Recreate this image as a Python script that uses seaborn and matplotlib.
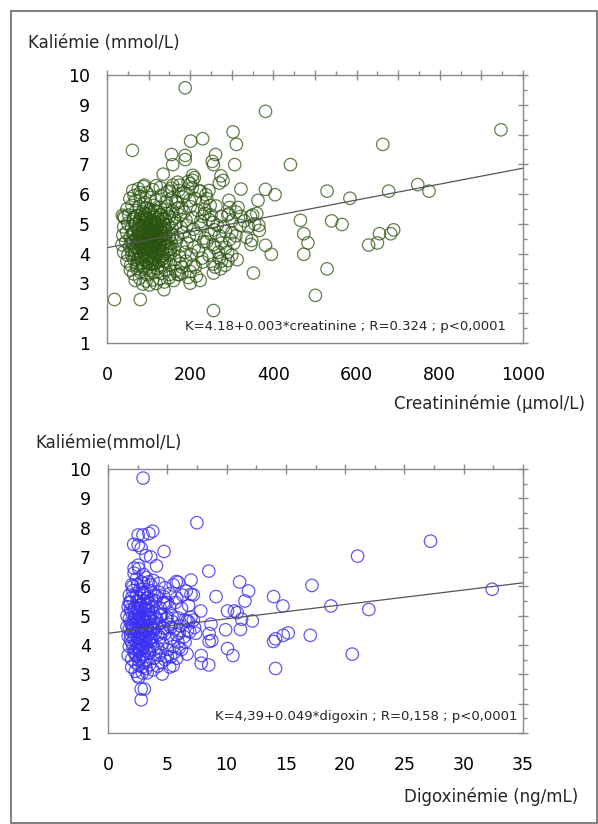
import matplotlib
matplotlib.use("Agg")
import matplotlib.pyplot as plt
from matplotlib.ticker import MultipleLocator, FuncFormatter
from matplotlib.patches import Rectangle
import seaborn as sns

sns.set_style("white")
plt.rcParams['font.family'] = ['DejaVu Sans']

# ---------------- Data: creatinine panel ----------------
creat_x = [
    # outliers / sparse points
    188, 381, 947, 303, 230, 201, 311, 663, 61, 155, 188, 188, 261, 253, 256, 158, 307, 441,
    135, 206, 206, 274, 270, 279, 322, 381, 404, 293, 363, 747, 774, 677, 529, 584, 465, 540,
    565, 473, 483, 473, 629, 650, 655, 682, 689, 529, 501, 381, 395, 352, 256, 18, 80, 137,
    37, 40, 313, 291, 284, 273, 256, 174, 200, 224, 346, 348, 366, 293,
    # cluster rows
    62, 75, 88, 96, 110, 128, 145, 158, 172, 190, 205, 222, 245, 238,
    55, 68, 80, 92, 104, 117, 130, 142, 155, 168, 182, 198, 212, 230, 262, 180,
    48, 60, 70, 78, 86, 95, 103, 112, 120, 128, 137, 146, 158, 170, 185, 200, 218, 235, 250, 275,
    42, 52, 63, 72, 81, 89, 97, 106, 114, 122, 131, 140, 150, 162, 175, 190, 206, 225, 245, 290, 310, 330, 345,
    40, 50, 59, 67, 75, 83, 90, 98, 105, 113, 121, 129, 138, 147, 156, 166, 178, 192, 208, 226, 258, 280, 300, 320, 355,
    38, 47, 56, 64, 71, 79, 86, 93, 100, 108, 115, 123, 131, 140, 149, 158, 170, 183, 198, 215, 235, 270, 295,
    36, 45, 54, 62, 69, 77, 84, 91, 99, 106, 113, 120, 128, 137, 146, 155, 166, 178, 192, 210, 232, 255, 285, 305,
    40, 50, 58, 66, 74, 82, 89, 96, 104, 111, 118, 126, 134, 143, 152, 162, 174, 188, 203, 220, 245, 268, 300,
    48, 57, 65, 73, 81, 88, 95, 103, 110, 117, 125, 133, 142, 152, 163, 176, 190, 208, 230, 255, 275,
    56, 64, 72, 80, 88, 96, 104, 112, 121, 130, 140, 150, 165, 180, 200, 215,
    68, 78, 86, 94, 102, 110, 118, 127, 138, 150, 160,
    # dense core
    76, 84, 92, 99, 107, 115, 88, 95, 103, 110, 118, 125, 81, 100, 108, 120, 130, 92, 85, 112,
    98, 105, 88, 115, 122, 78, 95, 102, 135, 72,
    62, 66, 70, 74, 77, 80, 83, 85, 87, 90, 91, 93, 94, 96, 97, 99, 101, 102, 104, 105,
    107, 109, 110, 111, 113, 114, 116, 117, 119, 121, 123, 124, 126, 127, 129, 131, 133, 134,
    136, 138, 141, 143, 145, 148, 150, 153, 156, 64, 68, 71, 73, 76, 79, 82, 86, 89, 92, 94,
    97, 100, 103, 106, 108, 111, 115, 118, 121, 124, 128, 132, 137, 142, 58, 60, 84, 96, 101,
    112, 119, 88, 104, 116,
    # medium spread
    165, 185, 200, 170, 155, 210, 225, 240, 235, 248, 230, 255, 265, 250, 240, 260, 275, 228,
    212, 195, 180, 170, 260, 270, 290, 285, 300, 315, 322, 340, 350, 360, 365, 335, 310, 295,
    90, 80, 65, 118, 150, 175, 195,
]
creat_k = [
    9.57, 8.78, 8.16, 8.09, 7.86, 7.78, 7.67, 7.67, 7.47, 7.33, 7.30, 7.16, 7.33, 7.10, 6.99, 6.99, 6.99, 6.99,
    6.67, 6.63, 6.46, 6.61, 6.37, 6.46, 6.17, 6.16, 5.98, 5.79, 5.79, 6.32, 6.10, 6.10, 6.10, 5.86, 5.12, 5.10,
    4.98, 4.67, 4.36, 3.98, 4.29, 4.36, 4.67, 4.67, 4.80, 3.49, 2.60, 4.28, 3.98, 3.35, 2.09, 2.46, 2.46, 2.79,
    5.29, 5.24, 3.80, 3.77, 3.61, 3.49, 3.35, 3.30, 3.01, 3.10, 4.31, 4.44, 4.78, 5.34,
    6.12, 6.18, 6.25, 6.05, 6.15, 6.22, 6.08, 6.30, 6.12, 6.02, 6.20, 6.10, 6.12, 5.98,
    5.85, 5.78, 5.92, 5.72, 5.88, 5.80, 5.95, 5.75, 5.86, 5.70, 5.90, 5.78, 5.85, 5.72, 5.60, 5.55,
    5.50, 5.62, 5.45, 5.58, 5.40, 5.55, 5.48, 5.62, 5.42, 5.55, 5.47, 5.60, 5.43, 5.52, 5.40, 5.58, 5.45, 5.35, 5.30, 5.25,
    5.20, 5.30, 5.15, 5.28, 5.12, 5.25, 5.18, 5.32, 5.10, 5.22, 5.30, 5.14, 5.25, 5.18, 5.30, 5.12, 5.22, 5.08, 5.15, 5.30, 5.40, 5.10, 5.25,
    4.90, 5.02, 4.85, 4.98, 4.82, 4.95, 5.05, 4.88, 4.98, 4.84, 5.00, 4.90, 4.80, 4.96, 4.86, 5.02, 4.88, 4.95, 4.82, 4.96, 4.80, 4.90, 4.70, 4.95, 5.00,
    4.62, 4.72, 4.55, 4.68, 4.52, 4.74, 4.60, 4.70, 4.55, 4.66, 4.50, 4.72, 4.58, 4.68, 4.52, 4.64, 4.55, 4.70, 4.58, 4.66, 4.52, 4.60, 4.48,
    4.30, 4.40, 4.25, 4.38, 4.22, 4.44, 4.30, 4.42, 4.26, 4.36, 4.20, 4.44, 4.28, 4.38, 4.22, 4.34, 4.42, 4.26, 4.36, 4.22, 4.40, 4.30, 4.20, 4.35,
    4.05, 3.95, 4.12, 3.98, 4.10, 3.92, 4.06, 3.96, 4.14, 3.90, 4.02, 4.12, 3.94, 4.08, 3.98, 4.12, 3.92, 4.05, 3.96, 4.10, 3.95, 4.05, 3.95,
    3.75, 3.62, 3.80, 3.66, 3.82, 3.60, 3.74, 3.64, 3.82, 3.68, 3.78, 3.60, 3.74, 3.64, 3.80, 3.66, 3.75, 3.62, 3.72, 3.65, 3.75,
    3.45, 3.32, 3.50, 3.38, 3.52, 3.30, 3.44, 3.36, 3.50, 3.34, 3.46, 3.30, 3.42, 3.35, 3.40, 3.25,
    3.10, 3.18, 2.98, 3.08, 2.95, 3.12, 3.00, 3.15, 3.05, 3.20, 3.10,
    4.55, 4.75, 4.15, 4.85, 4.45, 4.65, 4.35, 4.95, 4.25, 4.75, 4.35, 4.55, 4.25, 4.62, 4.08, 4.85, 4.45, 5.15, 4.48, 4.28,
    4.40, 4.80, 4.90, 4.05, 4.60, 4.65, 4.20, 5.05, 4.70, 4.35,
    4.70, 4.10, 5.00, 3.85, 4.95, 4.40, 5.30, 3.70, 4.60, 4.00, 5.35, 4.50, 3.80, 5.20, 4.30, 3.55, 4.70, 5.40, 3.95, 4.55,
    5.10, 4.20, 3.70, 4.90, 5.25, 4.40, 3.85, 4.75, 5.05, 4.15, 3.60, 4.95, 4.35, 5.30, 3.90, 4.70, 4.10, 5.15,
    4.50, 3.75, 4.85, 4.25, 5.35, 3.95, 4.60, 4.15, 5.10, 5.20, 4.45, 3.60, 4.80, 4.20, 5.15, 3.95, 5.05, 4.25, 4.75, 5.50,
    4.05, 3.85, 4.65, 4.95, 3.65, 4.30, 5.45, 4.50, 3.95, 4.25, 4.80, 3.80, 5.00, 4.40, 4.40, 3.95, 4.55, 4.45, 4.20,
    4.60, 4.40, 4.15, 5.00, 5.00,
    5.75, 6.05, 6.35, 6.40, 6.20, 6.55, 6.10, 5.85, 5.50, 5.62, 5.25, 5.05, 4.95, 4.65, 4.40, 4.20, 4.35, 3.85,
    3.55, 3.20, 3.55, 3.30, 3.55, 3.85, 4.05, 4.75, 5.10, 5.55, 5.25, 4.90, 5.30, 5.35, 4.95, 4.55, 4.60, 5.55,
    6.30, 6.05, 5.95, 6.28, 6.10, 6.30, 6.42,
]
creat_line_x = [0, 1000]
creat_line_k = [4.20, 6.87]

# ---------------- Data: digoxin panel ----------------
dig_x = [
    # outliers / sparse points
    2.96, 7.50, 27.2, 21.05, 8.50, 17.2, 32.4, 11.1, 11.85, 11.55, 13.97, 14.75, 18.8, 22.0,
    9.11, 10.08, 10.66, 10.9, 11.27, 12.17, 11.17, 9.92, 8.69, 8.53, 8.53, 8.75, 13.97, 14.13,
    14.78, 15.2, 17.06, 10.08, 10.53, 20.6, 14.13, 7.86, 7.86, 8.5, 7.82, 7.0, 7.0, 7.2, 6.6,
    5.76, 5.92, 6.66, 6.66, 5.5, 4.57, 2.8, 2.8, 3.06, 2.6, 3.77, 3.45, 2.95, 2.54, 2.16, 2.55,
    2.8, 3.2, 3.6, 4.73, 4.09, 2.2, 2.55,
    # cluster rows
    2.0, 2.4, 2.8, 3.2, 3.6, 2.2, 3.0, 3.8, 4.3, 2.6, 4.8, 5.5,
    1.8, 2.1, 2.4, 2.7, 3.0, 3.3, 3.6, 3.9, 4.3, 4.7, 5.2, 5.8, 6.3,
    1.7, 1.9, 2.2, 2.5, 2.8, 3.1, 3.4, 3.7, 4.0, 4.4, 4.8, 5.2, 5.7, 6.2, 6.8,
    1.6, 1.8, 2.0, 2.3, 2.6, 2.9, 3.2, 3.5, 3.8, 4.1, 4.5, 4.9, 5.4, 5.9, 6.5, 7.0,
    1.6, 1.9, 2.1, 2.4, 2.7, 3.0, 3.3, 3.6, 3.9, 4.3, 4.7, 5.1, 5.6, 6.1, 6.7, 7.3,
    1.7, 1.9, 2.2, 2.5, 2.8, 3.1, 3.4, 3.7, 4.0, 4.4, 4.8, 5.3, 5.8, 6.4,
    1.8, 2.0, 2.3, 2.6, 2.9, 3.2, 3.5, 3.8, 4.2, 4.6, 5.0, 5.5, 6.0,
    1.7, 2.0, 2.3, 2.6, 2.9, 3.2, 3.5, 3.9, 4.3, 4.8, 5.3, 5.8,
    2.0, 2.3, 2.6, 2.9, 3.2, 3.5, 3.8, 4.2, 5.2,
    # dense core
    2.2, 2.5, 2.7, 3.0, 3.3, 2.4, 2.9, 3.4, 2.1, 2.6, 3.1, 3.6, 2.3, 2.8, 3.5, 2.0, 3.2, 2.5,
    3.0, 2.7, 1.9, 3.7, 2.2, 3.3, 2.6, 3.0,
    1.9, 2.0, 2.1, 2.2, 2.3, 2.4, 2.4, 2.5, 2.6, 2.7, 2.7, 2.8, 2.9, 2.9, 3.0, 3.0, 3.1, 3.2,
    3.3, 3.3, 3.4, 3.5, 3.6, 3.7, 3.8, 3.9, 4.0, 4.1, 4.2, 4.4, 1.8, 1.8, 2.0, 2.2, 2.3, 2.5,
    2.6, 2.8, 3.0, 3.1, 3.2, 3.4, 3.5, 3.6, 3.8, 2.1, 2.5, 3.0, 3.4, 2.3, 2.7, 3.1, 2.5, 2.9,
    3.3, 4.6, 5.0, 4.7, 5.3, 4.4,
    # medium spread
    5.0, 5.4, 6.0, 6.5, 6.9, 7.2, 5.6, 6.2, 6.8, 7.4, 4.5, 5.0, 5.9,
]
dig_k = [
    9.69, 8.17, 7.54, 7.03, 6.52, 6.03, 5.90, 6.15, 5.84, 5.50, 5.65, 5.33, 5.33, 5.21,
    5.65, 5.16, 5.16, 5.10, 4.88, 4.82, 4.53, 4.52, 4.71, 4.39, 4.12, 4.15, 4.12, 4.21,
    4.33, 4.41, 4.33, 3.88, 3.64, 3.69, 3.20, 3.64, 3.38, 3.32, 5.16, 6.21, 5.73, 5.71, 5.84,
    6.16, 6.14, 4.82, 3.69, 3.30, 3.01, 2.13, 2.50, 2.50, 2.90, 7.88, 7.80, 7.75, 7.75, 7.43, 7.40,
    7.30, 7.05, 7.00, 7.19, 6.70, 6.62, 6.72,
    6.05, 6.25, 6.15, 6.30, 6.05, 6.45, 6.40, 6.20, 6.10, 6.60, 5.95, 6.05,
    5.70, 5.85, 5.65, 5.90, 5.75, 5.60, 5.85, 5.70, 5.80, 5.65, 5.75, 5.60, 5.70,
    5.30, 5.45, 5.25, 5.50, 5.35, 5.20, 5.45, 5.30, 5.50, 5.25, 5.40, 5.30, 5.45, 5.25, 5.35,
    5.00, 4.90, 5.10, 4.95, 5.12, 4.88, 5.05, 4.92, 5.10, 4.90, 5.05, 4.88, 5.00, 4.92, 4.85, 4.95,
    4.62, 4.75, 4.55, 4.70, 4.58, 4.78, 4.52, 4.68, 4.55, 4.72, 4.58, 4.70, 4.55, 4.65, 4.50, 4.60,
    4.30, 4.18, 4.40, 4.25, 4.42, 4.20, 4.35, 4.15, 4.40, 4.25, 4.38, 4.22, 4.35, 4.28,
    3.95, 4.08, 3.85, 4.02, 3.88, 4.05, 3.82, 3.98, 3.90, 4.05, 3.85, 3.95, 3.90,
    3.65, 3.52, 3.70, 3.48, 3.62, 3.50, 3.72, 3.55, 3.65, 3.50, 3.60, 3.55,
    3.25, 3.10, 3.30, 3.05, 3.20, 3.32, 3.15, 3.28, 3.25,
    4.85, 4.45, 5.05, 4.35, 4.82, 4.10, 4.62, 5.20, 4.65, 4.90, 4.48, 4.95, 5.30, 4.20, 4.40, 4.45,
    5.35, 3.95, 5.50, 4.75, 5.20, 4.60, 3.75, 3.90, 5.60, 3.70,
    4.35, 5.60, 3.90, 5.15, 4.55, 3.65, 5.75, 4.80, 4.25, 5.35, 3.85, 4.95, 4.40, 5.80, 3.95, 4.85, 5.25, 4.15,
    4.65, 5.60, 3.75, 5.05, 4.25, 5.55, 4.50, 3.85, 4.95, 5.65, 4.35, 5.00, 4.55, 5.45, 4.70, 4.20, 5.00, 5.25,
    3.80, 4.65, 4.15, 5.80, 4.55, 4.95, 4.20, 5.40, 4.80, 6.00, 6.05, 6.10, 6.15, 3.40, 3.55, 3.40, 2.95, 3.25,
    3.05, 4.45, 4.95, 5.45, 4.60, 3.75,
    5.45, 4.80, 4.40, 4.10, 4.45, 4.85, 3.75, 3.85, 4.80, 4.40, 3.40, 3.60, 4.10,
]
dig_line_x = [0, 35]
dig_line_k = [4.40, 6.12]

# ---------------- Figure ----------------
W, H = 598, 824
fig = plt.figure(figsize=(W / 100, H / 100), dpi=100)
fig.add_artist(Rectangle((11 / W, 1 - 823 / H), (597 - 11) / W, (823 - 11) / H,
                         transform=fig.transFigure, fill=False,
                         edgecolor="#6a6a6a", linewidth=1.2))

ax1 = fig.add_axes([107 / W, 1 - 343 / H, 416 / W, 268 / H])
ax2 = fig.add_axes([108 / W, 1 - 733 / H, 415 / W, 264 / H])

green = "#2a5410"
blue = "#3a2ff0"

sns.scatterplot(x=creat_x, y=creat_k, ax=ax1, marker="o", s=80,
                facecolor="none", edgecolor=green, linewidth=0.9, alpha=0.75)
sns.lineplot(x=creat_line_x, y=creat_line_k, ax=ax1, color="#555555", linewidth=0.9)

sns.scatterplot(x=dig_x, y=dig_k, ax=ax2, marker="o", s=80,
                facecolor="none", edgecolor=blue, linewidth=0.9, alpha=0.8)
sns.lineplot(x=dig_line_x, y=dig_line_k, ax=ax2, color="#555555", linewidth=0.9)

def style(ax, xmax, xmajor, xminor, label_every):
    ax.set_xlim(0, xmax)
    ax.set_ylim(1, 10)
    ax.xaxis.set_major_locator(MultipleLocator(xmajor))
    ax.xaxis.set_minor_locator(MultipleLocator(xminor))
    ax.yaxis.set_major_locator(MultipleLocator(1))
    ax.yaxis.set_minor_locator(MultipleLocator(0.5))
    ax.xaxis.set_major_formatter(FuncFormatter(
        lambda v, p: ("%g" % v) if abs(round(v / label_every) * label_every - v) < 1e-6 else ""))
    ax.yaxis.set_major_formatter(FuncFormatter(lambda v, p: "%d" % v))
    for s in ax.spines.values():
        s.set_visible(True)
        s.set_color("#8a8a8a")
        s.set_linewidth(1.0)
    ax.tick_params(which="both", top=True, right=True, colors="#8a8a8a",
                   labelcolor="black", labelsize=12.5)
    ax.tick_params(which="major", direction="inout", length=7, width=1.0)
    ax.tick_params(which="minor", direction="out", length=3, width=1.0)
    ax.tick_params(axis="x", which="major", pad=13)
    ax.tick_params(axis="y", which="major", pad=9)
    ax.set_xlabel("")
    ax.set_ylabel("")
    ax.grid(False)

style(ax1, 1000, 100, 50, 200)
style(ax2, 35, 5, 2.5, 5)

ax1.text(959, 1.57, "K=4.18+0.003*creatinine ; R=0.324 ; p<0,0001",
         ha="right", va="center", fontsize=9.5)
ax2.text(34.5, 1.55, "K=4,39+0.049*digoxin ; R=0,158 ; p<0,0001",
         ha="right", va="center", fontsize=9.5)

fig.text(28 / W, 1 - 43 / H, "Kaliémie (mmol/L)", ha="left", va="center", fontsize=12)
fig.text(585 / W, 1 - 404 / H, "Creatininémie (µmol/L)", ha="right", va="center", fontsize=12)
fig.text(35 / W, 1 - 443 / H, "Kaliémie(mmol/L)", ha="left", va="center", fontsize=12)
fig.text(578 / W, 1 - 797 / H, "Digoxinémie (ng/mL)", ha="right", va="center", fontsize=12)

fig.savefig("out.png", dpi=100)
